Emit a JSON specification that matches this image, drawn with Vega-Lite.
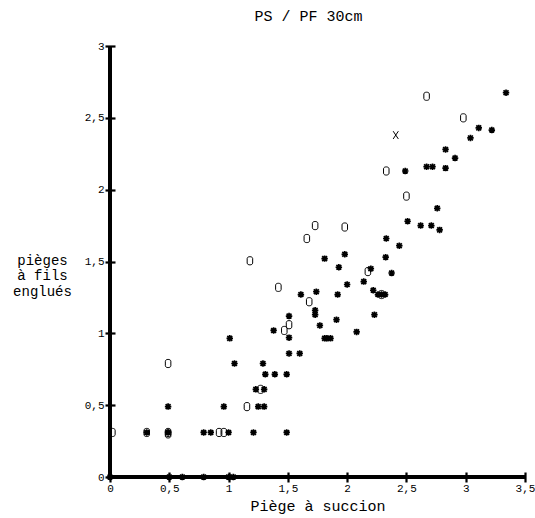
{
  "$schema": "https://vega.github.io/schema/vega-lite/v6.json",
  "autosize": "none",
  "width": 415,
  "height": 431,
  "padding": {"left": 110, "top": 46, "right": 10, "bottom": 41},
  "config": {
    "view": {"stroke": null},
    "font": "Liberation Mono",
    "locale": {"number": {"decimal": ",", "thousands": " ", "grouping": [3], "currency": ["", ""]}}
  },
  "title": {"text": "PS / PF 30cm", "font": "Liberation Mono", "fontSize": 15, "fontWeight": "normal", "color": "black", "offset": 16, "dx": -9},
  "data": {"values": [
    {"x": 0, "y": 0, "s": "*"}, {"x": 0.5, "y": 0, "s": "*"}, {"x": 0.61, "y": 0, "s": "*"}, {"x": 0.79, "y": 0, "s": "*"}, {"x": 1.0, "y": 0, "s": "*"}, {"x": 1.04, "y": 0, "s": "*"},
    {"x": 0.02, "y": 0.31, "s": "O"}, {"x": 0.31, "y": 0.31, "s": "O"}, {"x": 0.31, "y": 0.31, "s": "*"}, {"x": 0.49, "y": 0.31, "s": "O"}, {"x": 0.49, "y": 0.31, "s": "*"}, {"x": 0.49, "y": 0.30, "s": "O"},
    {"x": 0.79, "y": 0.31, "s": "*"}, {"x": 0.85, "y": 0.31, "s": "*"}, {"x": 0.92, "y": 0.31, "s": "O"}, {"x": 0.96, "y": 0.31, "s": "O"}, {"x": 1.0, "y": 0.31, "s": "*"}, {"x": 1.21, "y": 0.31, "s": "*"}, {"x": 1.49, "y": 0.31, "s": "*"},
    {"x": 0.49, "y": 0.49, "s": "*"}, {"x": 0.96, "y": 0.49, "s": "*"}, {"x": 1.155, "y": 0.49, "s": "O"}, {"x": 1.25, "y": 0.49, "s": "*"}, {"x": 1.30, "y": 0.49, "s": "*"},
    {"x": 0.49, "y": 0.79, "s": "O"},
    {"x": 1.23, "y": 0.61, "s": "*"}, {"x": 1.27, "y": 0.61, "s": "O"}, {"x": 1.30, "y": 0.61, "s": "*"},
    {"x": 1.31, "y": 0.715, "s": "*"}, {"x": 1.39, "y": 0.715, "s": "*"}, {"x": 1.49, "y": 0.715, "s": "*"},
    {"x": 1.05, "y": 0.79, "s": "*"}, {"x": 1.29, "y": 0.79, "s": "*"},
    {"x": 1.51, "y": 0.86, "s": "*"}, {"x": 1.60, "y": 0.86, "s": "*"},
    {"x": 1.01, "y": 0.965, "s": "*"}, {"x": 1.51, "y": 0.97, "s": "*"}, {"x": 1.81, "y": 0.965, "s": "*"}, {"x": 1.83, "y": 0.965, "s": "*"}, {"x": 1.86, "y": 0.965, "s": "*"},
    {"x": 1.38, "y": 1.02, "s": "*"}, {"x": 1.47, "y": 1.02, "s": "O"}, {"x": 1.51, "y": 1.06, "s": "O"}, {"x": 1.77, "y": 1.055, "s": "*"}, {"x": 1.91, "y": 1.095, "s": "*"}, {"x": 2.08, "y": 1.01, "s": "*"},
    {"x": 1.51, "y": 1.12, "s": "*"}, {"x": 1.73, "y": 1.13, "s": "*"}, {"x": 1.73, "y": 1.16, "s": "*"}, {"x": 2.23, "y": 1.13, "s": "*"},
    {"x": 1.68, "y": 1.22, "s": "O"},
    {"x": 1.61, "y": 1.27, "s": "*"}, {"x": 1.74, "y": 1.29, "s": "*"}, {"x": 1.92, "y": 1.27, "s": "*"}, {"x": 2.22, "y": 1.30, "s": "*"}, {"x": 2.26, "y": 1.27, "s": "*"}, {"x": 2.29, "y": 1.27, "s": "O"}, {"x": 2.29, "y": 1.27, "s": "*"}, {"x": 2.32, "y": 1.27, "s": "*"},
    {"x": 1.42, "y": 1.32, "s": "O"}, {"x": 2.0, "y": 1.34, "s": "*"}, {"x": 2.14, "y": 1.36, "s": "*"},
    {"x": 2.175, "y": 1.43, "s": "O"}, {"x": 2.20, "y": 1.45, "s": "*"}, {"x": 2.375, "y": 1.42, "s": "*"}, {"x": 1.93, "y": 1.46, "s": "*"},
    {"x": 1.18, "y": 1.505, "s": "O"}, {"x": 1.81, "y": 1.52, "s": "*"}, {"x": 1.98, "y": 1.55, "s": "*"}, {"x": 2.325, "y": 1.53, "s": "*"},
    {"x": 2.44, "y": 1.61, "s": "*"}, {"x": 2.33, "y": 1.66, "s": "*"}, {"x": 1.66, "y": 1.66, "s": "O"},
    {"x": 1.73, "y": 1.75, "s": "O"}, {"x": 1.98, "y": 1.74, "s": "O"},
    {"x": 2.51, "y": 1.78, "s": "*"}, {"x": 2.62, "y": 1.75, "s": "*"}, {"x": 2.71, "y": 1.75, "s": "*"}, {"x": 2.78, "y": 1.72, "s": "*"}, {"x": 2.76, "y": 1.87, "s": "*"},
    {"x": 2.50, "y": 1.955, "s": "O"},
    {"x": 2.33, "y": 2.13, "s": "O"}, {"x": 2.49, "y": 2.13, "s": "*"}, {"x": 2.67, "y": 2.16, "s": "*"}, {"x": 2.72, "y": 2.16, "s": "*"}, {"x": 2.83, "y": 2.15, "s": "*"},
    {"x": 2.83, "y": 2.28, "s": "*"}, {"x": 2.91, "y": 2.22, "s": "*"},
    {"x": 2.41, "y": 2.38, "s": "X"},
    {"x": 3.04, "y": 2.36, "s": "*"}, {"x": 3.11, "y": 2.43, "s": "*"}, {"x": 3.22, "y": 2.415, "s": "*"}, {"x": 2.98, "y": 2.50, "s": "O"},
    {"x": 2.67, "y": 2.65, "s": "O"}, {"x": 3.34, "y": 2.675, "s": "*"}
  ]},
  "layer": [
    {
      "mark": {"type": "point", "filled": false, "color": "black", "opacity": 1, "size": 42},
      "encoding": {
        "x": {"field": "x", "type": "quantitative", "scale": {"domain": [0, 3.5], "nice": false, "zero": true},
          "axis": {"values": [0, 0.5, 1, 1.5, 2, 2.5, 3, 3.5], "format": "~g", "grid": false, "domain": false, "offset": -5, "tickSize": 10, "tickWidth": 2.2, "tickColor": "black",
            "labelFont": "Liberation Mono", "labelFontSize": 11, "labelColor": "black", "labelPadding": 0, "labelFlush": false,
            "title": "Piège à succion", "titleFont": "Liberation Mono", "titleFontSize": 15, "titleFontWeight": "normal", "titleColor": "black", "titleBaseline": "alphabetic", "titleY": 38}},
        "y": {"field": "y", "type": "quantitative", "scale": {"domain": [0, 3], "nice": false, "zero": true},
          "axis": {"values": [0, 0.5, 1, 1.5, 2, 2.5, 3], "format": "~g", "grid": false, "domain": false, "offset": -5, "tickSize": 10, "tickWidth": 2.2, "tickColor": "black",
            "labelFont": "Liberation Mono", "labelFontSize": 11, "labelColor": "black", "labelPadding": 1, "labelFlush": false,
            "title": ["pièges", "à fils", "englués"], "titleFont": "Liberation Mono", "titleFontSize": 14, "titleFontWeight": "normal", "titleColor": "black",
            "titleAngle": 0, "titleAlign": "center", "titleBaseline": "middle", "titleLineHeight": 15.5, "titleX": -73, "titleY": 214}},
        "shape": {"field": "s", "type": "nominal", "legend": null, "scale": {"domain": ["*", "O", "X"], "range": [
          "M-1,0L1,0M0,-1L0,1M-0.75,-0.75L0.75,0.75M-0.75,0.75L0.75,-0.75",
          "M-0.85,-0.7C-0.85,-1.45 0.85,-1.45 0.85,-0.7L0.85,0.7C0.85,1.45 -0.85,1.45 -0.85,0.7Z",
          "M-0.8,-1.2L0.8,1.2M0.8,-1.2L-0.8,1.2"]}},
        "strokeWidth": {"field": "s", "type": "nominal", "legend": null, "scale": {"type": "ordinal", "domain": ["*", "O", "X"], "range": [1.7, 1, 1]}}
      }
    },
    {
      "mark": {"type": "rule", "color": "black", "strokeWidth": 2.5},
      "encoding": {"x": {"datum": 0, "type": "quantitative"}}
    },
    {
      "mark": {"type": "rule", "color": "black", "strokeWidth": 2.5},
      "encoding": {"y": {"datum": 0, "type": "quantitative"}}
    }
  ]
}
